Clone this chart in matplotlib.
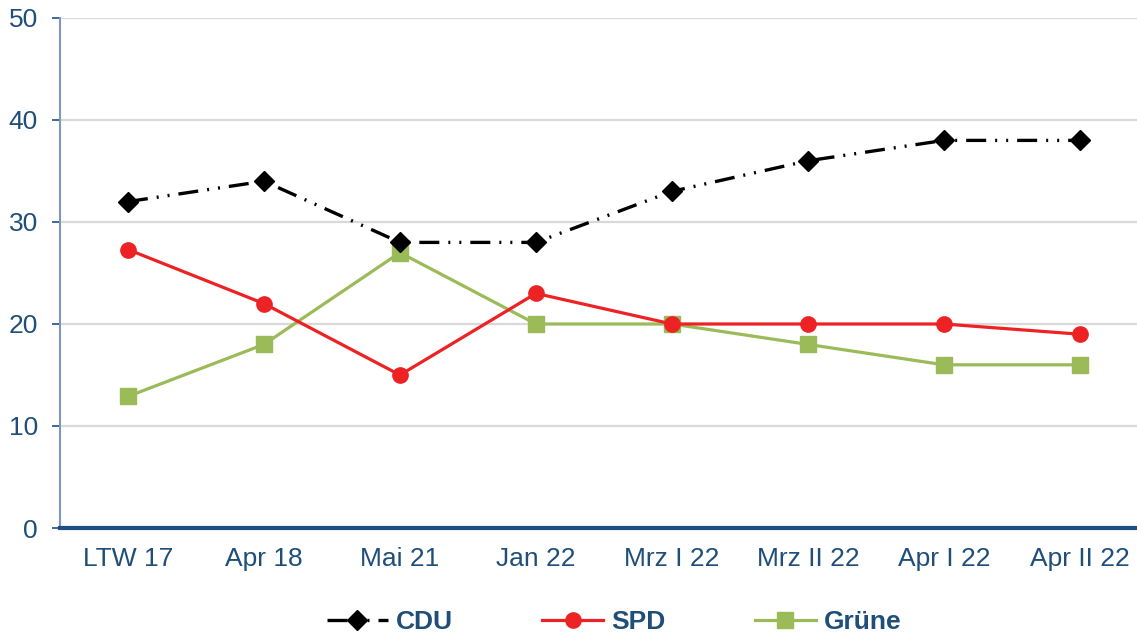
"""Recreate the party poll line chart (CDU / SPD / Grüne)."""

import matplotlib

matplotlib.use("Agg")
import matplotlib.pyplot as plt
import numpy as np

CATEGORIES = ["LTW 17", "Apr 18", "Mai 21", "Jan 22", "Mrz I 22", "Mrz II 22", "Apr I 22", "Apr II 22"]
CDU = [32, 34, 28, 28, 33, 36, 38, 38]
SPD = [27.3, 22, 15, 23, 20, 20, 20, 19]
GRUENE = [12.9, 18, 27, 20, 20, 18, 16, 16]
Y_TICKS = [0, 10, 20, 30, 40, 50]

TEXT_BLUE = "#1F4E79"
AXIS_BLUE = "#1F4E85"

plt.rcParams["font.family"] = ["Liberation Sans", "DejaVu Sans"]

fig = plt.figure(figsize=(11.37, 6.40), dpi=100)
ax = fig.add_axes([60 / 1137, 1 - 528 / 640, 1 - 60 / 1137, 510 / 640])

x = np.arange(len(CATEGORIES))
ax.plot(x, CDU, color="black", linewidth=2.4, dashes=(6.0, 2.7, 0.6, 2.7, 0.6, 2.7),
        marker="D", markersize=10, label="CDU", zorder=4)
ax.plot(x, SPD, color="#ED2224", linewidth=2.3, marker="o", markersize=11,
        label="SPD", zorder=4)
ax.plot(x, GRUENE, color="#9BBB59", linewidth=2.3, marker="s", markersize=11,
        label="Grüne", zorder=3)

ax.set_xlim(-0.5, 7.42)
ax.set_ylim(0, 50)
ax.set_xticks(x)
ax.set_xticklabels(CATEGORIES)
ax.set_yticks(Y_TICKS)

for val in Y_TICKS[1:]:
    ax.axhline(val, color="#D9D9D9", linewidth=1.6, zorder=1)

for side in ("top", "right"):
    ax.spines[side].set_visible(False)
ax.spines["left"].set_color("#7F98B8")
ax.spines["left"].set_linewidth(1.5)
ax.spines["bottom"].set_color(AXIS_BLUE)
ax.spines["bottom"].set_linewidth(3)
ax.spines["bottom"].set_zorder(5)

ax.tick_params(axis="y", length=6, width=1.2, color=AXIS_BLUE, pad=10,
               labelsize=19, labelcolor=TEXT_BLUE)
ax.tick_params(axis="x", length=0, pad=14, labelsize=19, labelcolor=TEXT_BLUE)

leg = fig.legend(loc="lower center", bbox_to_anchor=(0.54, -0.028), ncol=3, frameon=False,
                 handlelength=2.3, handletextpad=0.3, columnspacing=3.4,
                 prop={"size": 19, "weight": "bold"})
for text in leg.get_texts():
    text.set_color(TEXT_BLUE)

fig.savefig("out.png", dpi=100)
